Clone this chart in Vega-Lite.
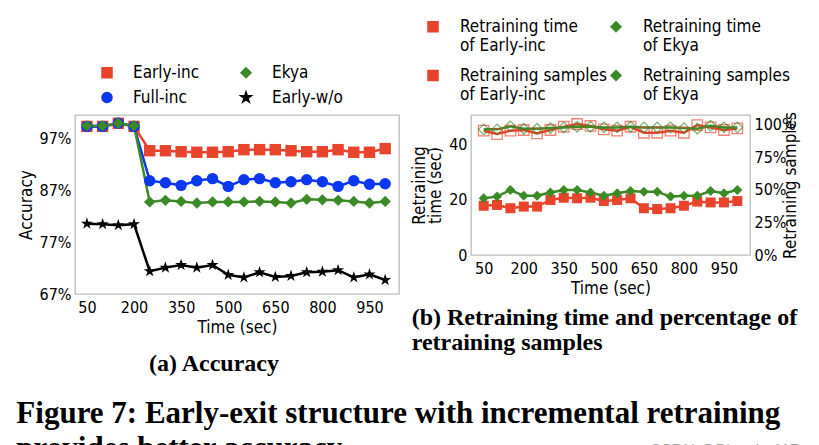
{
  "$schema": "https://vega.github.io/schema/vega-lite/v6.json",
  "background": "white",
  "padding": {"left": 16, "top": 17, "right": 5, "bottom": 2},
  "datasets": {
    "acc": [
      {"t":50,"m":"Early-inc","acc":99.4},{"t":100,"m":"Early-inc","acc":99.4},{"t":150,"m":"Early-inc","acc":100.0},{"t":200,"m":"Early-inc","acc":99.4},
      {"t":250,"m":"Early-inc","acc":94.7},{"t":300,"m":"Early-inc","acc":94.7},{"t":350,"m":"Early-inc","acc":94.5},{"t":400,"m":"Early-inc","acc":94.4},
      {"t":450,"m":"Early-inc","acc":94.4},{"t":500,"m":"Early-inc","acc":94.5},{"t":550,"m":"Early-inc","acc":94.9},{"t":600,"m":"Early-inc","acc":94.9},
      {"t":650,"m":"Early-inc","acc":94.9},{"t":700,"m":"Early-inc","acc":94.7},{"t":750,"m":"Early-inc","acc":94.5},{"t":800,"m":"Early-inc","acc":94.5},
      {"t":850,"m":"Early-inc","acc":94.9},{"t":900,"m":"Early-inc","acc":94.4},{"t":950,"m":"Early-inc","acc":94.4},{"t":1000,"m":"Early-inc","acc":95.1},
      {"t":50,"m":"Full-inc","acc":99.4},{"t":100,"m":"Full-inc","acc":99.4},{"t":150,"m":"Full-inc","acc":100.0},{"t":200,"m":"Full-inc","acc":99.4},
      {"t":250,"m":"Full-inc","acc":88.9},{"t":300,"m":"Full-inc","acc":88.5},{"t":350,"m":"Full-inc","acc":88.0},{"t":400,"m":"Full-inc","acc":88.9},
      {"t":450,"m":"Full-inc","acc":89.3},{"t":500,"m":"Full-inc","acc":87.8},{"t":550,"m":"Full-inc","acc":89.1},{"t":600,"m":"Full-inc","acc":89.3},
      {"t":650,"m":"Full-inc","acc":88.5},{"t":700,"m":"Full-inc","acc":88.7},{"t":750,"m":"Full-inc","acc":89.1},{"t":800,"m":"Full-inc","acc":88.7},
      {"t":850,"m":"Full-inc","acc":87.8},{"t":900,"m":"Full-inc","acc":88.9},{"t":950,"m":"Full-inc","acc":88.2},{"t":1000,"m":"Full-inc","acc":88.3},
      {"t":50,"m":"Ekya","acc":99.5},{"t":100,"m":"Ekya","acc":99.5},{"t":150,"m":"Ekya","acc":100.0},{"t":200,"m":"Ekya","acc":99.5},
      {"t":250,"m":"Ekya","acc":84.8},{"t":300,"m":"Ekya","acc":85.1},{"t":350,"m":"Ekya","acc":84.9},{"t":400,"m":"Ekya","acc":84.6},
      {"t":450,"m":"Ekya","acc":84.8},{"t":500,"m":"Ekya","acc":84.8},{"t":550,"m":"Ekya","acc":84.8},{"t":600,"m":"Ekya","acc":84.9},
      {"t":650,"m":"Ekya","acc":84.8},{"t":700,"m":"Ekya","acc":84.6},{"t":750,"m":"Ekya","acc":85.3},{"t":800,"m":"Ekya","acc":85.2},
      {"t":850,"m":"Ekya","acc":85.1},{"t":900,"m":"Ekya","acc":84.9},{"t":950,"m":"Ekya","acc":84.6},{"t":1000,"m":"Ekya","acc":84.9},
      {"t":50,"m":"Early-w/o","acc":80.6},{"t":100,"m":"Early-w/o","acc":80.5},{"t":150,"m":"Early-w/o","acc":80.3},{"t":200,"m":"Early-w/o","acc":80.5},
      {"t":250,"m":"Early-w/o","acc":71.4},{"t":300,"m":"Early-w/o","acc":72.1},{"t":350,"m":"Early-w/o","acc":72.6},{"t":400,"m":"Early-w/o","acc":72.1},
      {"t":450,"m":"Early-w/o","acc":72.6},{"t":500,"m":"Early-w/o","acc":70.7},{"t":550,"m":"Early-w/o","acc":70.2},{"t":600,"m":"Early-w/o","acc":71.2},
      {"t":650,"m":"Early-w/o","acc":70.3},{"t":700,"m":"Early-w/o","acc":70.5},{"t":750,"m":"Early-w/o","acc":71.2},{"t":800,"m":"Early-w/o","acc":71.3},
      {"t":850,"m":"Early-w/o","acc":71.6},{"t":900,"m":"Early-w/o","acc":70.2},{"t":950,"m":"Early-w/o","acc":70.8},{"t":1000,"m":"Early-w/o","acc":69.7}
    ],
    "rtime": [
      {"t":50,"s":"Retraining time of Early-inc","v":17.8},{"t":100,"s":"Retraining time of Early-inc","v":18.1},{"t":150,"s":"Retraining time of Early-inc","v":16.9},{"t":200,"s":"Retraining time of Early-inc","v":17.5},
      {"t":250,"s":"Retraining time of Early-inc","v":17.5},{"t":300,"s":"Retraining time of Early-inc","v":19.9},{"t":350,"s":"Retraining time of Early-inc","v":20.7},{"t":400,"s":"Retraining time of Early-inc","v":20.5},
      {"t":450,"s":"Retraining time of Early-inc","v":20.7},{"t":500,"s":"Retraining time of Early-inc","v":19.5},{"t":550,"s":"Retraining time of Early-inc","v":19.9},{"t":600,"s":"Retraining time of Early-inc","v":20.5},
      {"t":650,"s":"Retraining time of Early-inc","v":16.9},{"t":700,"s":"Retraining time of Early-inc","v":16.6},{"t":750,"s":"Retraining time of Early-inc","v":16.9},{"t":800,"s":"Retraining time of Early-inc","v":17.8},
      {"t":850,"s":"Retraining time of Early-inc","v":19.3},{"t":900,"s":"Retraining time of Early-inc","v":19.0},{"t":950,"s":"Retraining time of Early-inc","v":19.0},{"t":1000,"s":"Retraining time of Early-inc","v":19.5},
      {"t":50,"s":"Retraining time of Ekya","v":20.5},{"t":100,"s":"Retraining time of Ekya","v":21.1},{"t":150,"s":"Retraining time of Ekya","v":23.5},{"t":200,"s":"Retraining time of Ekya","v":21.4},
      {"t":250,"s":"Retraining time of Ekya","v":21.4},{"t":300,"s":"Retraining time of Ekya","v":22.6},{"t":350,"s":"Retraining time of Ekya","v":23.5},{"t":400,"s":"Retraining time of Ekya","v":23.5},
      {"t":450,"s":"Retraining time of Ekya","v":22.6},{"t":500,"s":"Retraining time of Ekya","v":21.4},{"t":550,"s":"Retraining time of Ekya","v":22.3},{"t":600,"s":"Retraining time of Ekya","v":23.1},
      {"t":650,"s":"Retraining time of Ekya","v":22.9},{"t":700,"s":"Retraining time of Ekya","v":22.9},{"t":750,"s":"Retraining time of Ekya","v":21.1},{"t":800,"s":"Retraining time of Ekya","v":21.4},
      {"t":850,"s":"Retraining time of Ekya","v":21.4},{"t":900,"s":"Retraining time of Ekya","v":23.1},{"t":950,"s":"Retraining time of Ekya","v":22.3},{"t":1000,"s":"Retraining time of Ekya","v":23.5}
    ],
    "rsamp": [
      {"t":50,"s":"Retraining samples of Early-inc","v":95.2},{"t":100,"s":"Retraining samples of Early-inc","v":92.6},{"t":150,"s":"Retraining samples of Early-inc","v":95.2},{"t":200,"s":"Retraining samples of Early-inc","v":95.7},
      {"t":250,"s":"Retraining samples of Early-inc","v":93.1},{"t":300,"s":"Retraining samples of Early-inc","v":95.7},{"t":350,"s":"Retraining samples of Early-inc","v":98.2},{"t":400,"s":"Retraining samples of Early-inc","v":100.3},
      {"t":450,"s":"Retraining samples of Early-inc","v":98.8},{"t":500,"s":"Retraining samples of Early-inc","v":96.2},{"t":550,"s":"Retraining samples of Early-inc","v":95.2},{"t":600,"s":"Retraining samples of Early-inc","v":98.2},
      {"t":650,"s":"Retraining samples of Early-inc","v":93.6},{"t":700,"s":"Retraining samples of Early-inc","v":93.6},{"t":750,"s":"Retraining samples of Early-inc","v":95.2},{"t":800,"s":"Retraining samples of Early-inc","v":93.6},
      {"t":850,"s":"Retraining samples of Early-inc","v":99.5},{"t":900,"s":"Retraining samples of Early-inc","v":97.7},{"t":950,"s":"Retraining samples of Early-inc","v":95.7},{"t":1000,"s":"Retraining samples of Early-inc","v":96.9},
      {"t":50,"s":"Retraining samples of Ekya","v":96.2},{"t":100,"s":"Retraining samples of Ekya","v":96.2},{"t":150,"s":"Retraining samples of Ekya","v":98.5},{"t":200,"s":"Retraining samples of Ekya","v":96.7},
      {"t":250,"s":"Retraining samples of Ekya","v":96.7},{"t":300,"s":"Retraining samples of Ekya","v":97.2},{"t":350,"s":"Retraining samples of Ekya","v":97.7},{"t":400,"s":"Retraining samples of Ekya","v":98.2},
      {"t":450,"s":"Retraining samples of Ekya","v":98.2},{"t":500,"s":"Retraining samples of Ekya","v":97.7},{"t":550,"s":"Retraining samples of Ekya","v":97.7},{"t":600,"s":"Retraining samples of Ekya","v":98.2},
      {"t":650,"s":"Retraining samples of Ekya","v":97.7},{"t":700,"s":"Retraining samples of Ekya","v":97.7},{"t":750,"s":"Retraining samples of Ekya","v":97.7},{"t":800,"s":"Retraining samples of Ekya","v":97.2},
      {"t":850,"s":"Retraining samples of Ekya","v":96.7},{"t":900,"s":"Retraining samples of Ekya","v":99.0},{"t":950,"s":"Retraining samples of Ekya","v":97.7},{"t":1000,"s":"Retraining samples of Ekya","v":97.7}
    ]
  },
  "title": {"text": "CSDN @Blanche117", "orient": "bottom", "anchor": "end", "frame": "bounds", "offset": -21, "font": "Liberation Sans", "fontSize": 16, "fontWeight": "normal", "color": "#a0a0a0"},
  "vconcat": [
    {
      "title": {"text": ["Figure 7: Early-exit structure with incremental retraining", "provides better accuracy."], "orient": "bottom", "anchor": "start", "frame": "bounds", "offset": 22, "font": "Liberation Serif", "fontSize": 31, "fontWeight": "bold", "lineHeight": 35, "color": "#000000"},
      "spacing": 10,
      "align": "none",
      "resolve": {"scale": {"color": "independent", "shape": "independent"}, "legend": {"color": "independent", "shape": "independent"}},
      "hconcat": [
        {
          "width": 324,
          "height": 179,
          "data": {"name": "acc"},
          "title": {"text": "(a) Accuracy", "orient": "bottom", "anchor": "middle", "dx": -23, "offset": 17, "font": "Liberation Serif", "fontSize": 24, "fontWeight": "bold", "color": "#000000"},
          "encoding": {
            "x": {"field": "t", "type": "quantitative", "scale": {"domain": [12, 1044], "nice": false, "zero": false}, "axis": {"values": [50, 200, 350, 500, 650, 800, 950], "title": "Time (sec)"}},
            "y": {"field": "acc", "type": "quantitative", "scale": {"domain": [67, 101.6], "nice": false, "zero": false}, "axis": {"values": [67, 77, 87, 97], "labelExpr": "datum.value + '%'", "title": "Accuracy"}},
            "color": {
              "field": "m", "type": "nominal",
              "scale": {"domain": ["Early-inc", "Ekya", "Full-inc", "Early-w/o"], "range": ["#e8432b", "#3a8a26", "#0a37f0", "#000000"]},
              "legend": {
                "orient": "none", "legendX": 23.5, "legendY": -51, "columns": 2, "direction": "horizontal", "title": null,
                "symbolSize": 100, "labelOffset": 17.5, "columnPadding": 38, "rowPadding": 7,
                "encoding": {
                  "symbols": {"update": {
                    "strokeWidth": {"value": 1.5},
                    "opacity": {"value": 1}
                  }}
                }
              }
            }
          },
          "layer": [
            {"mark": {"type": "line", "strokeWidth": 2.5}},
            {
              "mark": {"type": "point", "filled": true, "opacity": 1, "size": 130},
              "encoding": {
                "shape": {"field": "m", "type": "nominal", "scale": {"domain": ["Early-inc", "Ekya", "Full-inc", "Early-w/o"], "range": ["square", "diamond", "circle", "M0,-1.1L0.25,-0.34L1.05,-0.34L0.4,0.13L0.65,0.89L0,0.42L-0.65,0.89L-0.4,0.13L-1.05,-0.34L-0.25,-0.34Z"]}, "legend": null}
              }
            }
          ]
        },
        {
          "width": 279,
          "height": 140,
          "title": {"text": ["(b) Retraining time and percentage of", "retraining samples"], "orient": "bottom", "anchor": "start", "dx": 1, "offset": 10, "font": "Liberation Serif", "fontSize": 24, "fontWeight": "bold", "lineHeight": 25, "color": "#000000"},
          "encoding": {
            "x": {"field": "t", "type": "quantitative", "scale": {"domain": [2.5, 1047.5], "nice": false, "zero": false}, "axis": {"values": [50, 200, 350, 500, 650, 800, 950], "title": "Time (sec)"}},
            "color": {
              "field": "s", "type": "nominal",
              "scale": {"domain": ["Retraining time of Early-inc", "Retraining time of Ekya", "Retraining samples of Early-inc", "Retraining samples of Ekya"], "range": ["#e8432b", "#3a8a26", "#e8432b", "#3a8a26"]},
              "legend": {
                "orient": "none", "legendX": -46.5, "legendY": -97, "columns": 2, "direction": "horizontal", "title": null,
                "symbolSize": 100, "labelOffset": 18.5, "columnPadding": -6, "rowPadding": 12, "labelLimit": 300,
                "labelExpr": "datum.label === 'Retraining time of Early-inc' ? ['Retraining time', 'of Early-inc'] : datum.label === 'Retraining time of Ekya' ? ['Retraining time', 'of Ekya'] : datum.label === 'Retraining samples of Early-inc' ? ['Retraining samples', 'of Early-inc'] : ['Retraining samples', 'of Ekya']",
                "encoding": {
                  "labels": {"update": {"lineHeight": {"value": 20.5}}},
                  "symbols": {"update": {
                    "strokeWidth": {"value": 1.5},
                    "opacity": {"value": 1}
                  }}
                }
              }
            }
          },
          "layer": [
            {
              "data": {"name": "rtime"},
              "encoding": {"y": {"field": "v", "type": "quantitative", "scale": {"domain": [0, 50.6], "nice": false, "zero": false}, "axis": {"orient": "left", "values": [0, 20, 40], "title": ["Retraining", "time (sec)"], "titleLineHeight": 16}}},
              "layer": [
                {"mark": {"type": "line", "strokeWidth": 2.5}},
                {"mark": {"type": "point", "filled": true, "opacity": 1, "size": 100},
                 "encoding": {"shape": {"field": "s", "type": "nominal", "scale": {"domain": ["Retraining time of Early-inc", "Retraining time of Ekya", "Retraining samples of Early-inc", "Retraining samples of Ekya"], "range": ["square", "diamond", "square", "diamond"]}, "legend": null}}}
              ]
            },
            {
              "data": {"name": "rsamp"},
              "encoding": {"y": {"field": "v", "type": "quantitative", "scale": {"domain": [0, 107.2], "nice": false, "zero": false}, "axis": {"orient": "right", "values": [0, 25, 50, 75, 100], "labelExpr": "datum.value + '%'", "title": "Retraining samples", "titleAngle": 270}}},
              "layer": [
                {"mark": {"type": "line", "strokeWidth": 2.5}},
                {"mark": {"type": "point", "filled": false, "strokeWidth": 1.3, "opacity": 0.65, "size": 110},
                 "encoding": {"shape": {"field": "s", "type": "nominal", "scale": {"domain": ["Retraining time of Early-inc", "Retraining time of Ekya", "Retraining samples of Early-inc", "Retraining samples of Ekya"], "range": ["square", "diamond", "square", "diamond"]}, "legend": null}}}
              ]
            }
          ],
          "resolve": {"scale": {"y": "independent"}}
        }
      ]
    }
  ],
  "config": {
    "view": {"stroke": "#bdbdbd", "strokeWidth": 1.3},
    "axis": {"domain": false, "ticks": false, "grid": false, "labelFont": "DejaVu Sans Condensed, DejaVu Sans", "labelFontSize": 16, "labelColor": "#000000", "titleFont": "DejaVu Sans Condensed, DejaVu Sans", "titleFontSize": 17, "titleFontWeight": "normal", "titleColor": "#000000", "labelPadding": 4, "titlePadding": 4},
    "axisX": {"labelPadding": 5},
    "legend": {"labelFont": "DejaVu Sans Condensed, DejaVu Sans", "labelFontSize": 17, "labelColor": "#000000"}
  }
}
